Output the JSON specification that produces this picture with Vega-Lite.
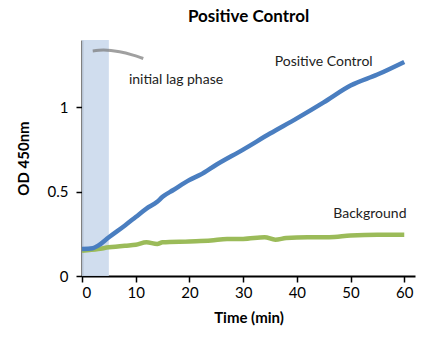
{
  "$schema": "https://vega.github.io/schema/vega-lite/v6.json",
  "autosize": "none",
  "width": 333,
  "height": 236,
  "padding": {"left": 82, "top": 40, "right": 9, "bottom": 62},
  "background": "white",
  "config": {"view": {"stroke": null}, "font": "Lato"},
  "title": {"text": "Positive Control", "fontSize": 17, "fontWeight": "bold", "font": "Lato", "color": "black", "anchor": "middle", "offset": 14},
  "datasets": {
    "pc": [
      {"t": 0, "v": 0.16}, {"t": 2, "v": 0.165}, {"t": 3, "v": 0.18}, {"t": 5, "v": 0.23},
      {"t": 8, "v": 0.30}, {"t": 10, "v": 0.35}, {"t": 12, "v": 0.40}, {"t": 14, "v": 0.44},
      {"t": 15, "v": 0.47}, {"t": 17, "v": 0.51}, {"t": 20, "v": 0.57}, {"t": 22, "v": 0.60},
      {"t": 25, "v": 0.66}, {"t": 30, "v": 0.75}, {"t": 35, "v": 0.845}, {"t": 40, "v": 0.935},
      {"t": 45, "v": 1.03}, {"t": 50, "v": 1.13}, {"t": 55, "v": 1.195}, {"t": 60, "v": 1.27}
    ],
    "bg": [
      {"t": 0, "v": 0.15}, {"t": 3, "v": 0.16}, {"t": 5, "v": 0.17}, {"t": 8, "v": 0.18},
      {"t": 10, "v": 0.185}, {"t": 12, "v": 0.2}, {"t": 14, "v": 0.19}, {"t": 15, "v": 0.2},
      {"t": 20, "v": 0.205}, {"t": 24, "v": 0.21}, {"t": 27, "v": 0.22}, {"t": 30, "v": 0.22},
      {"t": 34, "v": 0.23}, {"t": 36, "v": 0.215}, {"t": 38, "v": 0.225}, {"t": 42, "v": 0.23},
      {"t": 46, "v": 0.23}, {"t": 50, "v": 0.24}, {"t": 55, "v": 0.245}, {"t": 60, "v": 0.245}
    ],
    "mark": [
      {"t": 2, "v": 1.335}, {"t": 4, "v": 1.34}, {"t": 7, "v": 1.33}, {"t": 9.5, "v": 1.31}, {"t": 11.4, "v": 1.29}
    ],
    "shade": [{"t0": 0, "t1": 5, "v0": 0, "v1": 1.4}],
    "labels": [
      {"t": 45, "v": 1.27, "text": "Positive Control"},
      {"t": 53.6, "v": 0.365, "text": "Background"},
      {"t": 17.5, "v": 1.165, "text": "initial lag phase"}
    ]
  },
  "layer": [
    {
      "data": {"name": "shade"},
      "mark": {"type": "rect", "color": "#cbd9ec", "opacity": 0.9},
      "encoding": {
        "x": {"field": "t0", "type": "quantitative", "scale": {"domain": [0, 62], "nice": false},
          "axis": {"values": [0, 10, 20, 30, 40, 50, 60], "title": "Time (min)", "titleFontSize": 15, "titleFontWeight": "bold", "titleColor": "black", "titlePadding": 10, "labelFontSize": 15, "labelColor": "black", "domainColor": "black", "domainWidth": 2, "tickColor": "black", "tickWidth": 1.5, "tickSize": 6, "grid": false, "labelPadding": 3}},
        "x2": {"field": "t1"},
        "y": {"field": "v0", "type": "quantitative", "scale": {"domain": [0, 1.4], "nice": false},
          "axis": {"values": [0, 0.5, 1], "format": "~g", "title": "OD 450nm", "titleFontSize": 15, "titleFontWeight": "bold", "titleColor": "black", "titlePadding": 16, "labelFontSize": 15, "labelColor": "black", "domainColor": "black", "domainWidth": 2, "tickColor": "black", "tickWidth": 1.5, "tickSize": 6, "grid": false, "labelPadding": 8}},
        "y2": {"field": "v1"}
      }
    },
    {
      "data": {"name": "mark"},
      "mark": {"type": "line", "color": "#777777", "strokeWidth": 3, "opacity": 0.7, "interpolate": "monotone"},
      "encoding": {"x": {"field": "t", "type": "quantitative"}, "y": {"field": "v", "type": "quantitative"}}
    },
    {
      "data": {"name": "bg"},
      "mark": {"type": "line", "color": "#9bbb59", "strokeWidth": 4.5, "interpolate": "monotone"},
      "encoding": {"x": {"field": "t", "type": "quantitative"}, "y": {"field": "v", "type": "quantitative"}}
    },
    {
      "data": {"name": "pc"},
      "mark": {"type": "line", "color": "#4a7ec0", "strokeWidth": 4.5, "interpolate": "monotone"},
      "encoding": {"x": {"field": "t", "type": "quantitative"}, "y": {"field": "v", "type": "quantitative"}}
    },
    {
      "data": {"name": "labels"},
      "mark": {"type": "text", "fontSize": 14, "color": "#222222", "align": "center", "baseline": "middle"},
      "encoding": {"x": {"field": "t", "type": "quantitative"}, "y": {"field": "v", "type": "quantitative"}, "text": {"field": "text"}}
    }
  ]
}
